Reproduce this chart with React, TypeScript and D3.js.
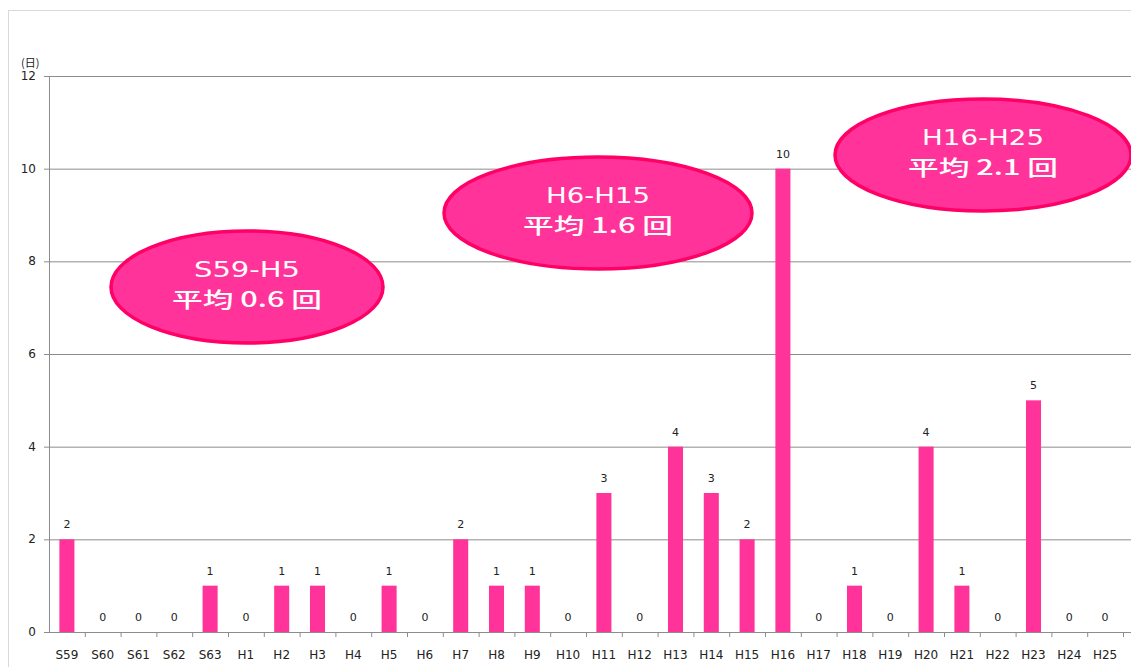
import React from "react";
import * as d3 from "d3";

const categories = ["S59","S60","S61","S62","S63","H1","H2","H3","H4","H5","H6","H7","H8","H9","H10","H11","H12","H13","H14","H15","H16","H17","H18","H19","H20","H21","H22","H23","H24","H25"];
const values = [2,0,0,0,1,0,1,1,0,1,0,2,1,1,0,3,0,4,3,2,10,0,1,0,4,1,0,5,0,0];
const yTicks = [0,2,4,6,8,10,12];
const bubbles = [
  { line1: "S59-H5", line2: "平均 0.6 回", cx: 247, cy: 287, rx: 136, ry: 56, w1: 106 },
  { line1: "H6-H15", line2: "平均 1.6 回", cx: 598, cy: 213, rx: 154, ry: 56, w1: 104 },
  { line1: "H16-H25", line2: "平均 2.1 回", cx: 983, cy: 155, rx: 148, ry: 56, w1: 122 },
];

export default function App() {
  const W = 1131, H = 667;
  const left = 49, right = 1123, top = 76, bottom = 632;
  const x = d3.scaleBand<string>().domain(categories).range([left, right]).paddingInner(0.58).paddingOuter(0.29);
  const xb = d3.scaleBand<string>().domain(categories).range([left, right]);
  const y = d3.scaleLinear().domain([0, 12]).range([bottom, top]);
  const font = "Verdana, 'DejaVu Sans', sans-serif";
  return (
    <svg width={W} height={H} style={{ position: "absolute", left: 0, top: 0 }}>
      <rect x={0} y={0} width={W} height={H} fill="#fff" />
      <rect x={8.5} y={10.5} width={W} height={H} fill="none" stroke="#d9d9d9" />
      {yTicks.map(t => (
        <g key={t}>
          <line x1={left - 5} x2={right + 8} y1={y(t) + 0.5} y2={y(t) + 0.5} stroke="#8c8c8c" />
          <text x={36} y={y(t) + 4} textAnchor="end" fontSize={12} fontFamily={font} fill="#222">{t}</text>
        </g>
      ))}
      <text x={21} y={67} fontSize={11} fontFamily="'Noto Sans CJK JP', sans-serif" fill="#222">(日)</text>
      <line x1={left + 0.5} x2={left + 0.5} y1={top} y2={bottom} stroke="#8c8c8c" />
      {categories.map((c) => (
        <line key={"t" + c} x1={(xb(c) as number) + xb.bandwidth() + 0.5} x2={(xb(c) as number) + xb.bandwidth() + 0.5} y1={bottom} y2={bottom + 5} stroke="#8c8c8c" />
      ))}
      {categories.map((c, i) => {
        const v = values[i];
        const bx = x(c) as number;
        const cx = (xb(c) as number) + xb.bandwidth() / 2;
        return (
          <g key={c}>
            {v > 0 && <rect x={bx} y={y(v)} width={x.bandwidth()} height={bottom - y(v)} fill="#ff3399" />}
            <text x={cx} y={y(v) - 11} textAnchor="middle" fontSize={11} fontFamily={font} fill="#222">{v}</text>
            <text x={cx} y={659} textAnchor="middle" fontSize={12} fontFamily={font} fill="#222">{c}</text>
          </g>
        );
      })}
      {bubbles.map(b => (
        <g key={b.line1}>
          <ellipse cx={b.cx} cy={b.cy} rx={b.rx} ry={b.ry} fill="#ff3399" stroke="#ff0066" strokeWidth={3.5} />
          <text x={b.cx - b.w1 / 2} y={b.cy - 10} textLength={b.w1} lengthAdjust="spacingAndGlyphs" fontSize={21} fontFamily="'DejaVu Sans', sans-serif" fill="#fff">{b.line1}</text>
          <text x={b.cx - 75} y={b.cy + 20} textLength={150} lengthAdjust="spacingAndGlyphs" fontSize={21} fontFamily="'Noto Sans CJK JP', sans-serif" fontWeight={500} fill="#fff">{b.line2}</text>
        </g>
      ))}
    </svg>
  );
}
